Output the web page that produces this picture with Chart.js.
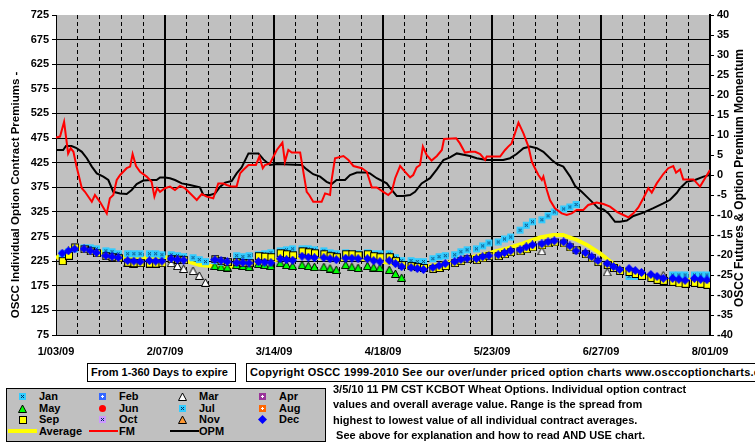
<!DOCTYPE html>
<html>
<head>
<meta charset="utf-8">
<title>KCBOT Wheat Options</title>
<script src="https://cdn.jsdelivr.net/npm/chart.js@4"></script>
<style>
  html, body { margin: 0; padding: 0; background: #fff; overflow: hidden; }
  body { font: bold 11px "Liberation Sans", Arial, sans-serif; color: #000; }
  #wrap { position: relative; width: 755px; height: 446px; overflow: hidden; }
  #chart { position: absolute; left: 0; top: 0; }
  .abs { position: absolute; white-space: nowrap; }
  .box { border: 1px solid #000; background: #fff; box-sizing: border-box; height: 19px; line-height: 17px; padding-left: 3px; }
  #legend { left: 6px; top: 388px; width: 320px; height: 54px; background: #c0c0c0; border: 1px solid #000; box-sizing: border-box; }
  .lg { line-height: 12px; }
  .note { line-height: 14px; }
</style>
</head>
<body>
<div id="wrap">
  <canvas id="chart" width="755" height="446"></canvas>
  <div class="abs box" style="left:87px; top:363px; width:149px;">From 1-360 Days to expire</div>
  <div class="abs box" style="left:246px; top:363px; width:560px; letter-spacing:0.27px;">Copyright OSCC 1999-2010 See our over/under priced option charts www.osccoptioncharts.com</div>
  <div class="abs" id="legend"></div>
  <div id="extras"></div>
</div>
<script>
// x axis is days since 1/03/09, one tick per week, a label every 5 weeks
const xTickDays = [0, 35, 70, 105, 140, 175, 210];
const xTickLabels = ['1/03/09', '2/07/09', '3/14/09', '4/18/09', '5/23/09', '6/27/09', '8/01/09'];

const leftTitle = 'OSCC Individual Option Contract Premiums -';
const rightTitle = 'OSCC Futures & Option Premium Momentum';

// trading days (Mon/Wed/Fri) used by the contract markers
const julDays = [2,4,6, 9,11,13, 16,18,20, 23,25,27, 30,32,34, 37,39,41, 44,46,48, 51,53,55,
  58,60,62, 65,67,69, 72,74,76, 79,81,83, 86,88,90, 93,95,97, 100,102,104, 107,109,111,
  114,116,118, 121,123,125, 128,130,132, 135,137,139, 142,144,146, 149,151,153, 156,158,160,
  163,165,167, 184,186,188, 198,200,202, 205,207,209];
const julValues = [240,244,250, 252,252,250, 246,244,240, 240,240,240, 240,240,238, 238,236,234, 232,228,224, 226,223,222,
  236,234,236, 238,240,242, 246,248,250, 250,250,248, 246,242,240, 242,240,240, 242,240,240, 240,232,226,
  226,224,224, 230,234,236, 238,244,248, 250,256,262, 264,270,274, 288,298,305, 309,317,325,
  331,335,340, 194,194,195, 197,197,197, 197,197,197];

const sepDecDays = [2,4,6, 9,11,13, 16,18,20, 23,25,27, 30,32,34, 37,39,41,
  51,53,55, 58,60,62, 65,67,69, 72,74,76, 79,81,83, 86,88,90, 93,95,97, 100,102,104,
  107,109,111, 114,116,118, 121,123,125, 128,130,132, 135,137,139, 142,144,146, 149,151,153,
  156,158,160, 163,165,167, 170,172,174, 177,179,181, 184,186,188, 191,193,195, 198,200,202, 205,207,209];
const sepValues = [226,237,254, 250,246,242, 236,234,232, 223,222,222, 221,221,222, 230,229,228,
  230,226,224, 224,222,222, 236,235,234, 242,240,238, 246,244,242, 240,236,234, 240,240,238, 240,236,234,
  234,226,218, 216,214,212, 210,212,216, 222,226,230, 228,232,236, 236,240,244, 246,250,254,
  258,262,264, 262,254,248, 240,232,224, 218,212,206, 204,200,196, 192,188,186, 184,181,180, 182,180,178];
const decValues = [241,246,250, 250,246,242, 236,234,232, 226,225,224, 226,225,225, 230,228,227,
  228,226,224, 222,222,221, 224,223,222, 230,228,227, 235,233,232, 232,230,228, 231,231,230, 230,226,224,
  226,220,214, 212,210,208, 212,216,220, 224,228,230, 230,234,236, 238,242,246, 248,254,258,
  260,264,266, 264,256,246, 242,234,226, 220,214,208, 210,206,202, 198,194,190, 190,188,186, 190,188,187];

const mayDays = [51,53,55, 58,60,62, 65,67,69, 72,74,76, 79,81,83, 86,88,90, 93,95,97, 100,102,104, 107,109,111];
const mayValues = [216,214,213, 218,216,214, 220,218,216, 222,218,216, 218,216,214, 214,211,208, 218,214,212, 216,213,212, 208,200,192];

const marDays = [23,25, 37,39,41, 44,46,48, 156, 177, 195];
const marValues = [222,221, 222,216,210, 206,196,182, 246, 203, 197];

// [day, value] pairs for the three lines
const avgSeries = [[0,231],[2.2,240],[4.5,251],[8.7,251],[14.1,244],[19.6,234],[24.7,231],[30.2,231],[35,233],
  [40.8,227],[46.2,217],[51.7,214],[56.8,214],[62.3,221],[67.8,224],[72.9,231],[78.4,234],[85.7,231],[91.2,229],
  [96.7,231],[101.8,227],[107.3,221],[112.7,213],[117.9,213],[123.3,219],[128.8,226],[134.2,234],[139.4,242],
  [144.9,251],[150,261],[155.4,273],[159.6,278],[162.8,278],[167.3,268],[170.5,258],[174.7,241],[178.6,221],
  [181.2,211],[186.6,197],[191.7,192],[197.2,188],[202.6,187],[210,187]];

const fmSeries = [[0,9.4],[1.3,9.6],[2.6,13.3],[3.9,5.4],[4.7,6.7],[5.6,5.8],[6.6,2.1],[8.3,-3.3],[9.3,-4.2],
  [11.5,-6.7],[12.5,-5],[14.1,-6.7],[16.3,-9.6],[17.3,-5.8],[18.4,-5],[19.5,-1.25],[20.6,0],[22.7,1.7],[23.8,2.1],
  [24.6,5.25],[25.7,2.25],[27,0.8],[29.1,-0.4],[30.7,-1.7],[31.6,-5.4],[32.5,-3.3],[33.4,-4.2],[35,-3.3],
  [36.6,-2.9],[38.2,-3.75],[39.8,-2.75],[41.4,-3.3],[43.6,-5],[45.2,-6.25],[46.8,-4.75],[48.4,-5.4],[50.5,-5.8],
  [52.1,-2.1],[53.7,-2.1],[54.8,-2.5],[56.4,-2.9],[58,-2.9],[59.1,0.4],[60.1,1.25],[61.8,2.5],[64.2,2.5],
  [65.3,4.6],[66.4,1.7],[67.1,2.5],[68.7,2.9],[70.9,6.25],[72.7,8.1],[73.5,3.3],[74.6,6.25],[75.7,5.6],
  [78.4,5.6],[80.5,-4.2],[81.3,-5],[82.6,-6.7],[85.3,-6.7],[86.4,-4.6],[88,-5],[88.5,-1.25],[89.6,4.2],
  [92.3,4.75],[93.9,3.75],[95.5,2.25],[98.2,1.7],[99.8,0.8],[101.4,-3.1],[103,-3.1],[105.1,-4.2],[106.7,-5],
  [107.8,-4.2],[108.9,-0.8],[110.5,2.25],[112.1,0.8],[113.7,-0.6],[114.7,0],[115.8,1.9],[116.9,2.5],[117.8,7.1],
  [119,5],[120.6,3.6],[122.3,4.75],[123.9,6.25],[124.6,9],[128.5,9.2],[129.7,7.9],[131.3,5.6],[132.9,5.8],
  [134.6,5.8],[136.2,5.25],[137.8,3.75],[138.3,4.6],[142.6,4.6],[144.2,6.25],[145.2,7.1],[146.3,7.9],[148.5,13.1],
  [150.1,10.4],[151.7,7.1],[152.8,3.3],[153.8,1.7],[154.9,0],[156,-1.25],[156.5,-0.4],[157.6,-3.75],[158.6,-6.25],
  [160.2,-8.3],[162.4,-9.6],[164,-10],[165.6,-9.6],[167.2,-8.75],[169.3,-8.75],[170.9,-7.5],[173.6,-6.9],
  [175.8,-7.25],[177.9,-7.9],[180.1,-9.2],[182.2,-10],[183.8,-10.6],[185.4,-9.6],[187,-8.1],[188.6,-5.8],
  [190.2,-3.3],[191.3,-4.4],[192.9,-2.1],[195,0.25],[196.6,1.7],[198.2,2.25],[199.1,0.6],[200.4,1.4],
  [201.4,-1.1],[204.7,-1.1],[206.8,-2.9],[208.4,-0.8],[210,1.25]];

const opmSeries = [[0,6.25],[2.3,6.25],[3.2,7.25],[5,7.25],[6.6,6.7],[8.3,5.8],[9.9,4.2],[11.5,2.1],[13.1,0.4],
  [15.2,-0.4],[16.8,-1.25],[18.4,-4.2],[20.6,-4.6],[22.7,-4.75],[24.3,-3.75],[25.9,-2.25],[28,-1.4],[30.7,-1.25],
  [32.3,-1.25],[33.4,-0.6],[35,-0.6],[36.6,-0.8],[38.2,-1.25],[40.4,-2.1],[43,-2.5],[46.2,-3.1],[47.3,-5],
  [49.5,-5],[51.1,-4.6],[52.7,-2.9],[54.3,-1.9],[56.4,-1.5],[58,0.4],[59.6,1.9],[61.8,5.4],[65,5.4],[66.6,3.9],
  [68.7,2.5],[70.9,2.75],[78.9,2.5],[80.5,1.4],[82.6,0.2],[84.8,-0.4],[86.9,-1.7],[88.5,-2.25],[90.1,-1.25],
  [92.8,-1.25],[94.4,0],[96.6,0.6],[99.8,0.6],[100.8,0.4],[103,-0.8],[106.2,-2.1],[107.8,-3.75],[109.4,-5.25],
  [111.5,-5.25],[113.7,-5],[115.3,-4.2],[117.4,-2.1],[120.1,-0.8],[122.3,1.4],[124.4,3.75],[126.5,4.4],
  [128.7,5.4],[131.3,5],[132.9,4.75],[135.1,4.2],[138.3,3.75],[143.6,3.75],[145.8,4.2],[147.9,5.25],
  [150.1,6.7],[152.2,7.1],[154.4,6.7],[156.5,5.8],[159.2,3.75],[160.8,2.75],[162.9,2.1],[165.1,-0.4],
  [166.7,-2.75],[168.8,-4.2],[170.4,-5.4],[172.6,-7.1],[174.1,-8.3],[175.8,-8.6],[177.4,-9.6],[179.5,-11.7],
  [181.1,-11.7],[183.3,-11.4],[185.4,-10.25],[188.6,-9.4],[191.8,-8.3],[195,-7.1],[197.2,-6.2],[199.3,-4.5],
  [200.4,-3.3],[202.5,-1.7],[205.2,-1.25],[207.9,-0.4],[210,0]];

// legend entries: label, marker kind, fill
const legendItems = [
  ['Jan', 'sqx', '#33CCFF'], ['Feb', 'sqplus', '#3366FF'], ['Mar', 'tri', '#FFFFFF'], ['Apr', 'sqplus', '#993399'],
  ['May', 'tri', '#00FF00'], ['Jun', 'circ', '#FF0000'], ['Jul', 'sqx', '#33CCFF'], ['Aug', 'sqplus', '#FF6600'],
  ['Sep', 'sqb', '#FFFF00'], ['Oct', 'sqx', '#CC99FF'], ['Nov', 'tri', '#FF9933'], ['Dec', 'dia', '#0000FF']
];
const legendLines = [['Average', '#FFFF00', 4], ['FM', '#FF0000', 2], ['OPM', '#000000', 2]];

const noteLines = [
  '3/5/10 11 PM CST KCBOT Wheat Options. Individual option contract',
  'values and overall average value. Range is the spread from',
  'highest to lowest value of all individual contract averages.',
  '\u00a0See above for explanation and how to read AND USE chart.'
];

// small bitmap markers, like the old spreadsheet ones
function makeMarker(kind, fill) {
  const c = document.createElement('canvas');
  c.width = 9; c.height = 9;
  const g = c.getContext('2d');
  if (kind === 'sqx' || kind === 'sqplus') {
    g.fillStyle = fill;
    g.fillRect(1, 1, 7, 7);
    g.fillStyle = kind === 'sqx' ? '#003366' : '#FFFFFF';
    const dots = kind === 'sqx' ? [[3,3],[5,3],[4,4],[3,5],[5,5]] : [[4,3],[3,4],[4,4],[5,4],[4,5]];
    dots.forEach(d => g.fillRect(d[0], d[1], 1, 1));
  } else if (kind === 'sqb') {
    g.fillStyle = fill;
    g.fillRect(1, 1, 8, 8);
    g.strokeStyle = '#000';
    g.lineWidth = 1;
    g.strokeRect(1.5, 1.5, 7, 7);
  } else if (kind === 'tri') {
    g.beginPath();
    g.moveTo(4.5, 1); g.lineTo(8.5, 8.5); g.lineTo(0.5, 8.5); g.closePath();
    g.fillStyle = fill; g.fill();
    g.strokeStyle = '#000'; g.lineWidth = 1; g.stroke();
  } else if (kind === 'dia') {
    g.beginPath();
    g.moveTo(4.5, 0); g.lineTo(9, 4.5); g.lineTo(4.5, 9); g.lineTo(0, 4.5); g.closePath();
    g.fillStyle = fill; g.fill();
  } else if (kind === 'circ') {
    g.beginPath();
    g.arc(4.5, 4.5, 3.5, 0, Math.PI * 2);
    g.fillStyle = fill; g.fill();
  }
  return c;
}

function pts(days, values) {
  return days.map((d, i) => ({ x: d, y: values[i] }));
}
function pairs(list) {
  return list.map(p => ({ x: p[0], y: p[1] }));
}

function markerSet(label, data, kind, fill, order) {
  return {
    type: 'scatter', label: label, data: data, yAxisID: 'y', order: order,
    pointStyle: makeMarker(kind, fill), pointRadius: 4, showLine: false
  };
}

const plotFrame = {
  id: 'plotFrame',
  beforeDraw(chart) {
    const { ctx, chartArea: a } = chart;
    ctx.save();
    ctx.fillStyle = '#C0C0C0';
    ctx.fillRect(a.left, a.top, a.right - a.left, a.bottom - a.top);
    ctx.restore();
  },
  afterDraw(chart) {
    const { ctx, chartArea: a } = chart;
    const mid = (a.top + a.bottom) / 2;
    ctx.save();
    ctx.fillStyle = '#000';
    ctx.textAlign = 'center';
    ctx.textBaseline = 'middle';
    [[a.left - 40, mid + 20, leftTitle, 11.5], [a.right + 30, mid + 3, rightTitle, 12]].forEach(t => {
      ctx.save();
      ctx.font = 'bold ' + t[3] + 'px "Liberation Sans", Arial, sans-serif';
      ctx.translate(t[0], t[1]);
      ctx.rotate(-Math.PI / 2);
      ctx.fillText(t[2], 0, 0);
      ctx.restore();
    });
    ctx.restore();
  }
};

Chart.defaults.font.family = '"Liberation Sans", Arial, sans-serif';
Chart.defaults.font.size = 11;
Chart.defaults.font.weight = 'bold';
Chart.defaults.color = '#000';

const clear = 'rgba(0,0,0,0)';

new Chart(document.getElementById('chart'), {
  type: 'line',
  data: {
    datasets: [
      markerSet('Dec', pts(sepDecDays, decValues), 'dia', '#0000FF', 1),
      markerSet('Sep', pts(sepDecDays, sepValues), 'sqb', '#FFFF00', 2),
      markerSet('Jul', pts(julDays, julValues), 'sqx', '#33CCFF', 3),
      markerSet('May', pts(mayDays, mayValues), 'tri', '#00FF00', 4),
      markerSet('Mar', pts(marDays, marValues), 'tri', '#FFFFFF', 5),
      { label: 'Average', data: pairs(avgSeries), yAxisID: 'y', borderColor: '#FFFF00', borderWidth: 4,
        pointRadius: 0, tension: 0, order: 10 },
      { label: 'FM', data: pairs(fmSeries), yAxisID: 'y2', borderColor: '#FF0000', borderWidth: 2,
        pointRadius: 0, tension: 0, order: 0 },
      { label: 'OPM', data: pairs(opmSeries), yAxisID: 'y2', borderColor: '#000000', borderWidth: 2,
        pointRadius: 0, tension: 0, order: 0 }
    ]
  },
  options: {
    responsive: false,
    animation: false,
    devicePixelRatio: 1,
    events: [],
    layout: { padding: { top: 15, bottom: 81, left: 0, right: 0 } },
    plugins: { legend: { display: false }, tooltip: { enabled: false } },
    scales: {
      x: {
        type: 'linear', min: 0, max: 210,
        afterFit: s => { s.height = 30; },
        ticks: {
          stepSize: 7, autoSkip: false, maxRotation: 0, padding: 10,
          callback: v => { const i = xTickDays.indexOf(v); return i >= 0 ? xTickLabels[i] : ''; }
        },
        grid: {
          drawTicks: false,
          color: c => (c.tick.value === 0 || c.tick.value === 210) ? clear : '#000',
          lineWidth: c => c.tick.value % 35 === 0 ? 2 : 1
        },
        border: { color: '#000', width: 1, dash: c => (c.tick && c.tick.value % 35) ? [4, 3] : [] }
      },
      y: {
        position: 'left', min: 75, max: 725,
        afterFit: s => { s.width = 56; },
        ticks: { stepSize: 25, padding: 3, callback: v => (v - 75) % 50 === 0 ? String(v) : '' },
        grid: {
          tickLength: 4,
          color: c => c.tick.value === 725 ? clear : '#000',
          tickColor: c => (c.tick.value - 75) % 50 === 0 ? '#000' : clear,
          lineWidth: 1
        },
        border: { color: '#000', width: 1, dash: c => (c.tick && (c.tick.value - 75) % 50) ? [4, 3] : [] }
      },
      y2: {
        position: 'right', min: -40, max: 40,
        afterFit: s => { s.width = 45; },
        ticks: { stepSize: 5, padding: 3 },
        grid: { drawOnChartArea: false, tickLength: 4, tickColor: '#000' },
        border: { color: '#000', width: 2 }
      }
    }
  },
  plugins: [plotFrame]
});

// legend and notes under the chart
const extras = document.getElementById('extras');
function place(el, left, top) {
  el.classList.add('abs');
  el.style.left = left + 'px';
  el.style.top = top + 'px';
  extras.appendChild(el);
}
const rowY = [396, 408, 419, 431];
legendItems.forEach((it, i) => {
  const col = i % 4, row = Math.floor(i / 4);
  const m = makeMarker(it[1], it[2]);
  place(m, 22 + 80 * col - 4, rowY[row] - 4);
  const t = document.createElement('div');
  t.className = 'lg';
  t.textContent = it[0];
  place(t, 39 + 80 * col, rowY[row] - 6);
});
legendLines.forEach((it, i) => {
  const line = document.createElement('div');
  line.style.width = '29px';
  line.style.height = it[2] + 'px';
  line.style.background = it[1];
  place(line, 8 + 81 * i, rowY[3] - it[2] / 2);
  const t = document.createElement('div');
  t.className = 'lg';
  t.textContent = it[0];
  place(t, 39 + 80 * i, rowY[3] - 6);
});
noteLines.forEach((txt, i) => {
  const t = document.createElement('div');
  t.className = 'note';
  t.textContent = txt;
  place(t, 333, 382 + 15.3 * i);
});
</script>
</body>
</html>
